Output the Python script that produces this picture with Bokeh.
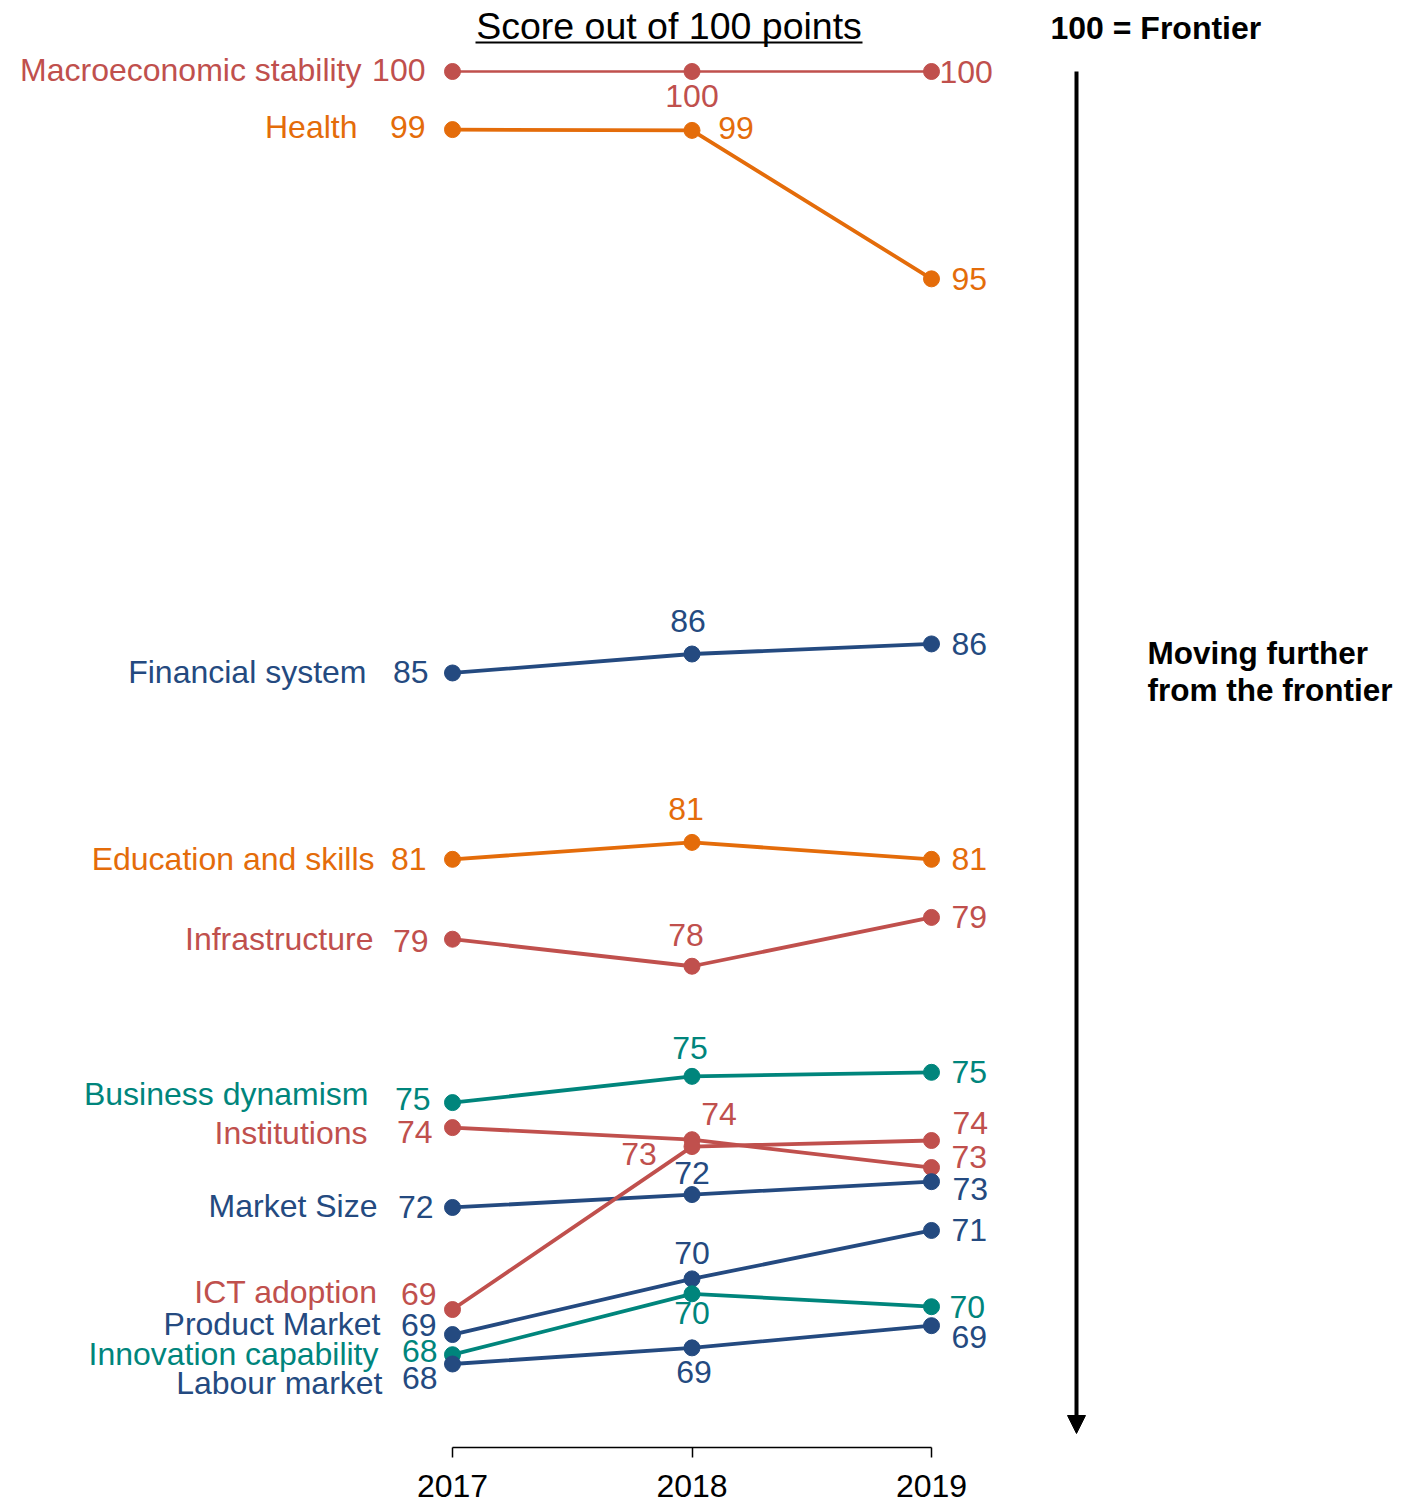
from bokeh.plotting import figure
from bokeh.models import (ColumnDataSource, Range1d, FixedTicker, Arrow, NormalHead,
                          Label, BasicTickFormatter)
from bokeh.core.properties import value
from bokeh.embed import file_html
from bokeh.resources import INLINE

# ---------------- data ----------------
years = [2017, 2018, 2019]
categories = ["Macroeconomic stability", "Health", "Financial system", "Education and skills",
              "Infrastructure", "Business dynamism", "Institutions", "Market Size",
              "ICT adoption", "Product Market", "Innovation capability", "Labour market"]

macro_vals = [100.0, 100.0, 100.0]
health_vals = [98.56, 98.54, 94.86]
financial_vals = [85.09, 85.56, 85.81]
education_vals = [80.47, 80.89, 80.47]
infra_vals = [78.49, 77.82, 79.03]
business_vals = [74.44, 75.09, 75.19]
institutions_vals = [73.82, 73.52, 72.83]
market_vals = [71.84, 72.16, 72.48]
ict_vals = [69.31, 73.35, 73.50]
product_vals = [68.69, 70.07, 71.27]
innovation_vals = [68.19, 69.70, 69.38]
labour_vals = [67.96, 68.36, 68.91]

macro_lbl = ["100", "100", "100"]
health_lbl = ["99", "99", "95"]
financial_lbl = ["85", "86", "86"]
education_lbl = ["81", "81", "81"]
infra_lbl = ["79", "78", "79"]
business_lbl = ["75", "75", "75"]
institutions_lbl = ["74", "74", "73"]
market_lbl = ["72", "72", "73"]
ict_lbl = ["69", "73", "74"]
product_lbl = ["69", "70", "71"]
innovation_lbl = ["68", "70", "70"]
labour_lbl = ["68", "69", "69"]

series_vals = [macro_vals, health_vals, financial_vals, education_vals, infra_vals,
               business_vals, institutions_vals, market_vals, ict_vals, product_vals,
               innovation_vals, labour_vals]
series_lbls = [macro_lbl, health_lbl, financial_lbl, education_lbl, infra_lbl,
               business_lbl, institutions_lbl, market_lbl, ict_lbl, product_lbl,
               innovation_lbl, labour_lbl]

# ---------------- styles / layout ----------------
RED, ORANGE, NAVY, TEAL = "#C0504D", "#E46C0A", "#244A80", "#00857C"
colors = [RED, ORANGE, NAVY, ORANGE, RED, TEAL, RED, NAVY, RED, NAVY, TEAL, NAVY]
widths = [2.6] + [3.8] * 11

# pixel offsets (dx, dy) for labels, screen px, dy positive = down
cat_off = [(-91, -2), (-95, -3), (-86, -1), (-78, 0), (-79, 0), (-84, -9), (-85, 5),
           (-75, -1), (-75, -18), (-72, -11), (-74, -1), (-70, 19)]
v17_off = [(-27, -2), (-27, -3), (-24, -1), (-26, 0), (-24, 2), (-22, -4), (-20, 4),
           (-19, 0), (-16, -16), (-16, -10), (-15, -4), (-15, 14)]
v18_off = [(0, 24), (44, -2), (-4, -33), (-6, -33), (-6, -31), (-2, -28), (27, -26),
           (0, -22), (-53, 7), (0, -26), (0, 19), (2, 24)]
v19_off = [(8, 0), (20, 0), (20, 0), (20, 0), (20, 0), (20, 0), (20, -11),
           (21, 7), (21, -18), (20, 0), (18, 0), (20, 11)]

W, H = 1412, 1503
FRAME_H = 1447
PX_PER_YEAR = 239.5
PX_PER_PT = 40.34
X0 = 2017 - 452 / PX_PER_YEAR
X1 = X0 + W / PX_PER_YEAR
YT = 100 + 71 / PX_PER_PT
YB = YT - FRAME_H / PX_PER_PT


def px_x(px):
    return X0 + px / PX_PER_YEAR


def px_y(py):
    return YT - py / PX_PER_PT


FONT = "Liberation Sans"
FS = "32px"

p = figure(width=W, height=H, x_range=Range1d(X0, X1), y_range=Range1d(YB, YT),
           output_backend="svg", toolbar_location=None, y_axis_location=None,
           min_border_left=0, min_border_right=0, min_border_top=0, min_border_bottom=56)
p.outline_line_color = None
p.xgrid.visible = False
p.ygrid.visible = False
p.background_fill_color = "white"
p.border_fill_color = "white"

ax = p.xaxis[0]
ax.ticker = FixedTicker(ticks=years)
ax.formatter = BasicTickFormatter(use_scientific=False)
ax.bounds = (years[0], years[-1])
ax.major_tick_out = 10
ax.major_tick_in = 0
ax.minor_tick_line_color = None
ax.axis_line_color = "black"
ax.axis_line_width = 1.5
ax.major_tick_line_color = "black"
ax.major_tick_line_width = 1.5
ax.major_label_text_font = FONT
ax.major_label_text_font_size = "32px"
ax.major_label_text_color = "black"
ax.major_label_standoff = 17

for i, cat in enumerate(categories):
    vals = series_vals[i]
    lbls = series_lbls[i]
    c = colors[i]
    src = ColumnDataSource(dict(x=years, y=vals))
    p.line("x", "y", source=src, line_color=c, line_width=widths[i])
    p.scatter("x", "y", source=src, size=16, fill_color=c, line_color=c)

    # category name
    p.text(x=[years[0]], y=[vals[0]], text=[cat], x_offset=cat_off[i][0], y_offset=cat_off[i][1],
           text_align="right", text_baseline="middle", text_color=c,
           text_font=value(FONT), text_font_size=FS)
    # value labels
    p.text(x=[years[0]], y=[vals[0]], text=[lbls[0]], x_offset=v17_off[i][0], y_offset=v17_off[i][1],
           text_align="right", text_baseline="middle", text_color=c,
           text_font=value(FONT), text_font_size=FS)
    p.text(x=[years[1]], y=[vals[1]], text=[lbls[1]], x_offset=v18_off[i][0], y_offset=v18_off[i][1],
           text_align="center", text_baseline="middle", text_color=c,
           text_font=value(FONT), text_font_size=FS)
    p.text(x=[years[2]], y=[vals[2]], text=[lbls[2]], x_offset=v19_off[i][0], y_offset=v19_off[i][1],
           text_align="left", text_baseline="middle", text_color=c,
           text_font=value(FONT), text_font_size=FS)

# title with underline
p.add_layout(Label(x=px_x(668.5), y=px_y(25), text="Score out of 100 points", text_align="center",
                   text_baseline="middle", text_font=FONT, text_font_size="37.5px",
                   text_color="black"))
p.segment(x0=[px_x(475)], y0=[px_y(42)], x1=[px_x(862)], y1=[px_y(42)],
          line_color="black", line_width=2)

# right annotations
p.add_layout(Label(x=px_x(1050), y=px_y(27), text="100 = Frontier", text_align="left",
                   text_baseline="middle", text_font=FONT, text_font_size="32px",
                   text_font_style="bold", text_color="black"))
p.add_layout(Label(x=px_x(1147), y=px_y(652), text="Moving further", text_align="left",
                   text_baseline="middle", text_font=FONT, text_font_size="31.5px",
                   text_font_style="bold", text_color="black"))
p.add_layout(Label(x=px_x(1147), y=px_y(689), text="from the frontier", text_align="left",
                   text_baseline="middle", text_font=FONT, text_font_size="31.5px",
                   text_font_style="bold", text_color="black"))
p.add_layout(Arrow(x_start=px_x(1076), y_start=px_y(71), x_end=px_x(1076), y_end=px_y(1433),
                   line_color="black", line_width=4,
                   end=NormalHead(size=18, fill_color="black", line_color="black")))

open("out.html", "w").write(file_html(p, INLINE))
